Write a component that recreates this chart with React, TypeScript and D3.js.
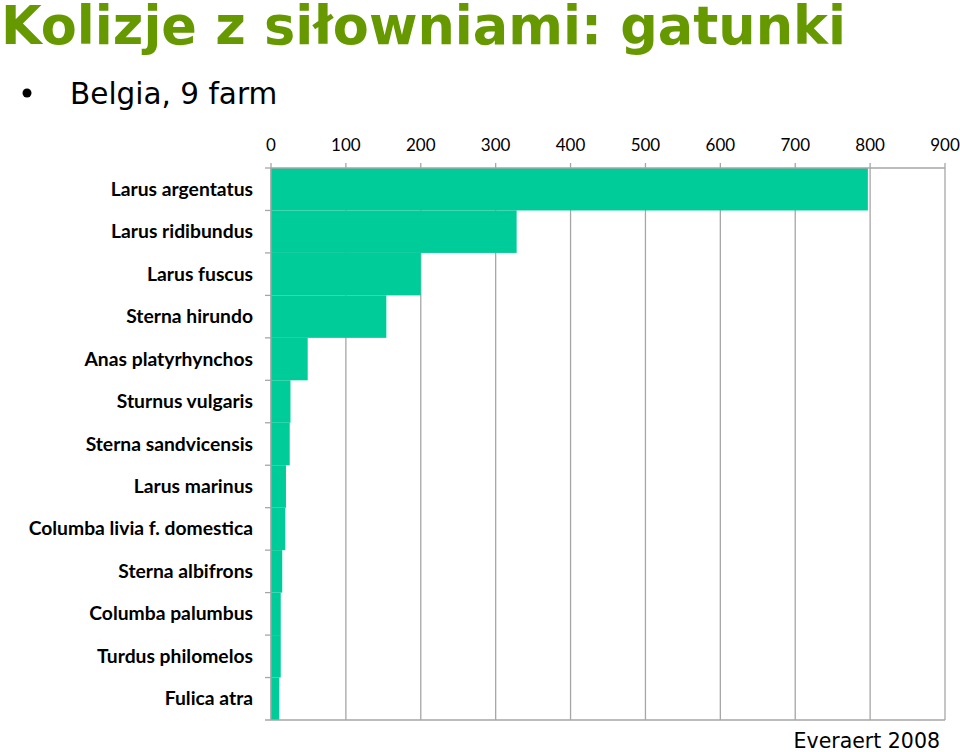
import React from "react";
import * as d3 from "d3";

const species = [
  "Larus argentatus",
  "Larus ridibundus",
  "Larus fuscus",
  "Sterna hirundo",
  "Anas platyrhynchos",
  "Sturnus vulgaris",
  "Sterna sandvicensis",
  "Larus marinus",
  "Columba livia f. domestica",
  "Sterna albifrons",
  "Columba palumbus",
  "Turdus philomelos",
  "Fulica atra",
];
const collisions = [797, 328, 200, 154, 49, 26, 25, 20, 19, 15, 13, 13, 11];
const xTicks = [0, 100, 200, 300, 400, 500, 600, 700, 800, 900];

const W = 960;
const H = 752;
const left = 271;
const right = 945;
const top = 168;
const bottom = 720;

export default function App() {
  const x = d3.scaleLinear().domain([0, 900]).range([left, right]);
  const y = d3.scaleBand<string>().domain(species).range([top, bottom]).padding(0);
  const grid = "#a6a6a6";
  return (
    <svg width={W} height={H} style={{ position: "absolute", left: 0, top: 0, background: "#fff" }}>
      <text x={1} y={44} fontFamily="DejaVu Sans" fontWeight="bold" fontSize={52.5} fill="#669900">
        Kolizje z siłowniami: gatunki
      </text>
      <circle cx={27} cy={93} r={4.5} fill="#000" />
      <text x={70} y={104} fontFamily="DejaVu Sans" fontSize={29.5} fill="#000">
        Belgia, 9 farm
      </text>

      {xTicks.map((t) => (
        <line key={"g" + t} x1={x(t)} x2={x(t)} y1={top - 5} y2={bottom} stroke={grid} strokeWidth={1.3} />
      ))}
      {species.map((s, i) => (
        <rect key={s} x={x(0)} y={y(s)!} width={x(collisions[i]) - x(0)} height={y.bandwidth()} fill="#00CC99" />
      ))}
      <line x1={left} x2={right} y1={top} y2={top} stroke={grid} strokeWidth={1.3} />
      <line x1={left - 6} x2={right} y1={bottom} y2={bottom} stroke={grid} strokeWidth={1.3} />
      <line x1={left} x2={left} y1={top} y2={bottom} stroke={grid} strokeWidth={1.3} />
      {species.map((s) => (
        <line key={"t" + s} x1={left - 6} x2={left} y1={y(s)!} y2={y(s)!} stroke={grid} strokeWidth={1.3} />
      ))}
      {xTicks.map((t) => (
        <text key={"l" + t} x={x(t)} y={151} textAnchor="middle" fontFamily="Lato" fontSize={17} fill="#000">
          {t}
        </text>
      ))}
      {species.map((s) => (
        <text
          key={"c" + s}
          x={253}
          y={y(s)! + y.bandwidth() / 2 + 6.5}
          textAnchor="end"
          fontFamily="Lato"
          fontWeight="bold"
          fontSize={19.3}
          fill="#000"
        >
          {s}
        </text>
      ))}
      <text x={940} y={748} textAnchor="end" fontFamily="DejaVu Sans" fontSize={20.5} fill="#000">
        Everaert 2008
      </text>
    </svg>
  );
}
